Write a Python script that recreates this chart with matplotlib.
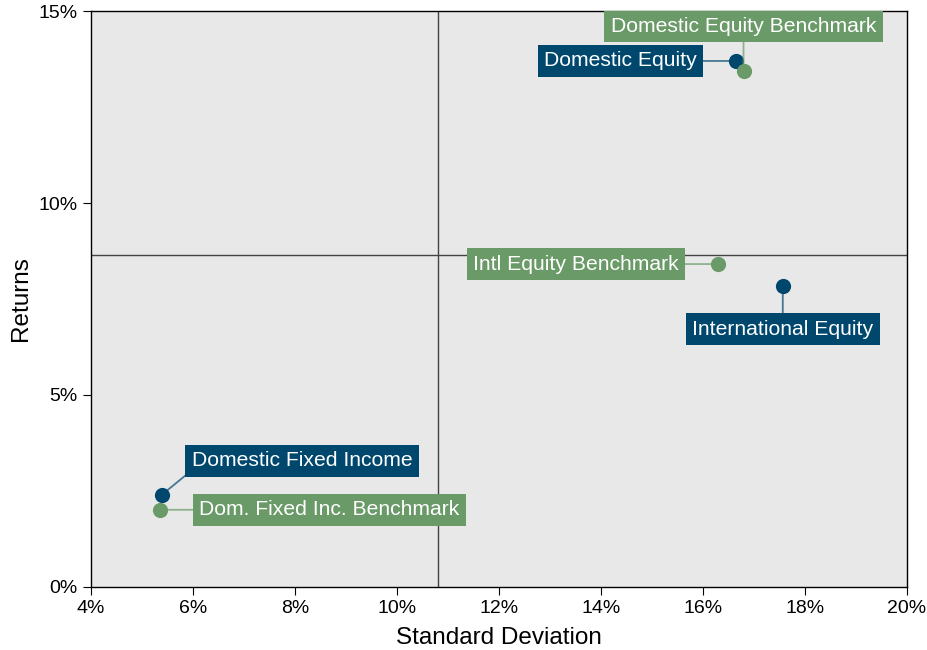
import matplotlib.pyplot as plt
from matplotlib.ticker import FuncFormatter

plt.rcParams['font.family'] = ['Liberation Sans', 'DejaVu Sans']

names = ["Domestic Equity", "Domestic Equity Benchmark", "International Equity",
         "Intl Equity Benchmark", "Domestic Fixed Income", "Dom. Fixed Inc. Benchmark"]
std_dev = [16.65, 16.80, 17.57, 16.29, 5.39, 5.35]
returns = [13.70, 13.44, 7.84, 8.41, 2.40, 2.01]
is_bench = [False, True, False, True, False, True]
avg_std = 10.80
avg_ret = 8.65

navy = '#00476e'
green = '#6a9a68'

# label offsets in points, and where the connector leaves the box
offsets = [(-83, 0), (0, 32), (0, -31), (-102, 0), (101, 24.5), (122, 0)]
relpos = [(1, 0.5), (0.5, 0), (0.5, 1), (1, 0.5), (0, 0), (0, 0.5)]

fig = plt.figure(figsize=(9.28, 6.5), dpi=100)
ax = fig.add_axes([0.098, 0.097, 0.879, 0.886])
ax.set_facecolor('#e8e8e8')

ax.axvline(avg_std, color='#444444', lw=1, zorder=1)
ax.axhline(avg_ret, color='#444444', lw=1, zorder=1)

for name, x, y, b, off, rp in zip(names, std_dev, returns, is_bench, offsets, relpos):
    c = green if b else navy
    ax.scatter(x, y, s=120, color=c, zorder=4, linewidths=0)
    ax.annotate(name, (x, y), xytext=off, textcoords='offset points',
                ha='center', va='center', fontsize=15.2, color='white', zorder=5,
                bbox=dict(boxstyle='square,pad=0.3', fc=c, ec='none'),
                arrowprops=dict(arrowstyle='-', color=c, alpha=0.7, lw=1.3,
                                shrinkA=0, shrinkB=0, relpos=rp))

ax.set_xlim(4, 20)
ax.set_ylim(0, 15)
ax.set_xticks(range(4, 21, 2))
ax.set_yticks([0, 5, 10, 15])
ax.xaxis.set_major_formatter(FuncFormatter(lambda v, p: f'{v:.0f}%'))
ax.yaxis.set_major_formatter(FuncFormatter(lambda v, p: f'{v:.0f}%'))
ax.tick_params(labelsize=14, length=6, direction='out', color='black')
ax.set_xlabel('Standard Deviation', fontsize=17.5, labelpad=7)
ax.set_ylabel('Returns', fontsize=17.5, labelpad=5)
for s in ax.spines.values():
    s.set_color('black')
    s.set_linewidth(1)

fig.savefig('out.png', dpi=100)
